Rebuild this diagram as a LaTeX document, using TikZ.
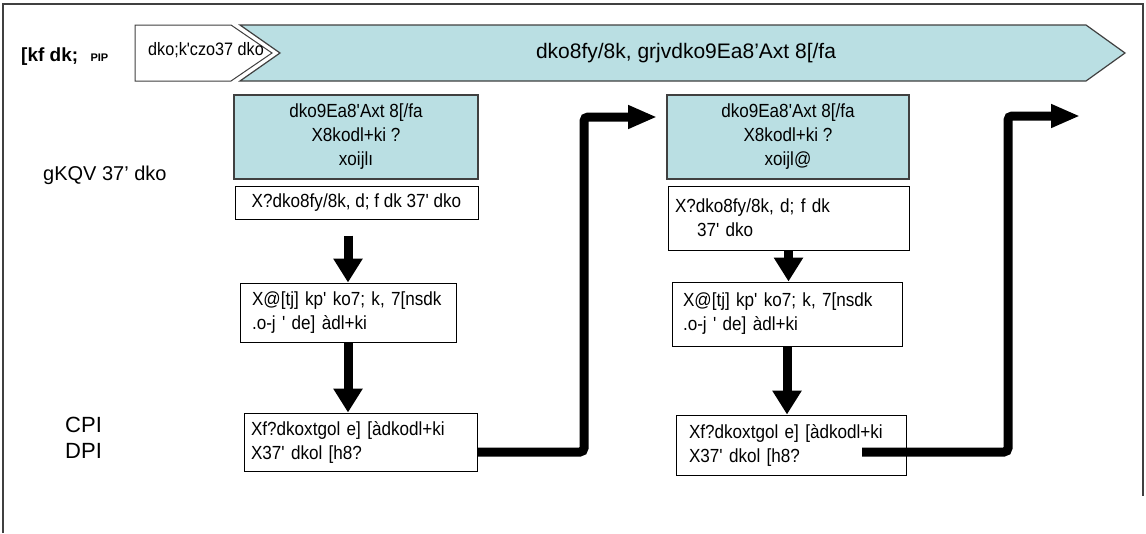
\documentclass[tikz,border=0pt]{standalone}
\usepackage{fontspec}
\setmainfont{Liberation Sans}
\newfontfamily\bx[FakeStretch=0.9]{Liberation Sans}
\usetikzlibrary{arrows.meta}
\definecolor{cy}{RGB}{186,223,227}
\definecolor{ol}{RGB}{64,64,64}
\begin{document}
\begin{tikzpicture}[x=1pt,y=-1pt,
  cbox/.style={draw=ol, line width=1.2pt, fill=cy, inner sep=0pt, font=\bx\fontsize{19}{24}\selectfont, align=center},
  wbox/.style={draw=black, line width=1pt, fill=white, inner ysep=0pt, font=\bx\fontsize{19}{24}\selectfont, align=left},
  downarr/.style={line width=9pt, -{Triangle[width=28pt,length=24pt]}},
  elbow/.style={line width=9pt, rounded corners=4pt, -{Triangle[width=22pt,length=29pt]}},
  lab/.style={inner sep=0pt, anchor=west}]
\useasboundingbox (0,0) rectangle (1146,533);
\draw[line width=1.2pt, ol] (3,533) -- (3,4) -- (1143,4) -- (1143,496);
% top arrows
\draw[ol, line width=1pt, fill=white] (135,25) -- (231,25) -- (272,53) -- (231,81) -- (135,81) -- cycle;
\draw[ol, line width=1.2pt, fill=cy] (240,25) -- (1086,25) -- (1125,53) -- (1086,81) -- (240,81) -- (280,53) -- cycle;
\node[inner sep=0pt, font=\bx\fontsize{18}{20}\selectfont] (sm) at (206,50) {dko;k'czo37 dko};
\node[inner sep=0pt, font=\fontsize{21}{24}\selectfont] (title) at (686,53) {dko8fy/8k, grjvdko9Ea8'Axt 8[/fa};
% left labels
\node[lab, font=\bfseries\fontsize{19}{22}\selectfont] (kh) at (21,57) {[kf dk;};
\node[inner sep=0pt, anchor=base west, font=\bfseries\fontsize{11}{12}\selectfont] (pip) at ([xshift=12pt]kh.base east) {PIP};
\node[lab, font=\fontsize{20}{24}\selectfont] (g) at (43,175) {gKQV 37' dko};
\node[lab, font=\fontsize{22}{26}\selectfont] (cpi) at (65,425) {CPI};
\node[lab, font=\fontsize{22}{26}\selectfont] (dpi) at (65,451) {DPI};
% column 1
\node[cbox, minimum width=244pt, minimum height=84pt] (c1) at (356,137) {dko9Ea8'Axt 8[/fa\\X8kodl+ki ?\\xoijl\i};
\node[wbox, align=center, inner xsep=0pt, minimum width=243pt, minimum height=33pt] (b1) at (356.5,202.5) {X?dko8fy/8k, d; f dk 37' dko};
\node[wbox, inner xsep=12pt, text width=192pt, minimum height=59pt] (b2) at (348,312.5) {\mbox{X@[tj] kp' ko7; k, 7[nsdk}\\\mbox{.o-j ' de] \`adl+ki}};
\node[wbox, inner xsep=7pt, text width=219pt, minimum height=58pt] (b3) at (360.5,442) {\mbox{Xf?dkoxtgol e] [\`adkodl+ki}\\\mbox{X37' dkol [h8?}};
% column 2
\node[cbox, minimum width=242pt, minimum height=84pt] (c2) at (788,137) {dko9Ea8'Axt 8[/fa\\X8kodl+ki ?\\xoijl@};
\node[wbox, inner xsep=7pt, text width=227pt, minimum height=64pt] (b4) at (788.5,218) {\mbox{X?dko8fy/8k, d; f dk}\\\hspace*{22pt}37' dko};
\node[wbox, inner xsep=11pt, text width=208pt, minimum height=64pt] (b5) at (787,314) {\mbox{X@[tj] kp' ko7; k, 7[nsdk}\\\mbox{.o-j ' de] \`adl+ki}};
\node[wbox, inner xsep=13pt, text width=204pt, minimum height=60pt] (b6) at (791,445) {\mbox{Xf?dkoxtgol e] [\`adkodl+ki}\\\mbox{X37' dkol [h8?}};
% vertical arrows
\draw[downarr] ([yshift=-16pt]b1.south -| b2.north) -- (b2.north);
\draw[downarr] (b2.south) -- (b2.south |- b3.north);
\draw[downarr] (b4.south) -- (b4.south |- b5.north);
\draw[downarr] (b5.south) -- (b5.south |- b6.north);
% bent connectors
\coordinate (k1) at (584,117);
\coordinate (t1) at (657,117);
\coordinate (s2) at (862,452);
\coordinate (k2) at (1008,116);
\coordinate (t2) at (1080,116);
\draw[elbow] ([yshift=-10pt]b3.east) -| (k1) -- (t1);
\draw[elbow] (s2) -| (k2) -- (t2);
\end{tikzpicture}
\end{document}
